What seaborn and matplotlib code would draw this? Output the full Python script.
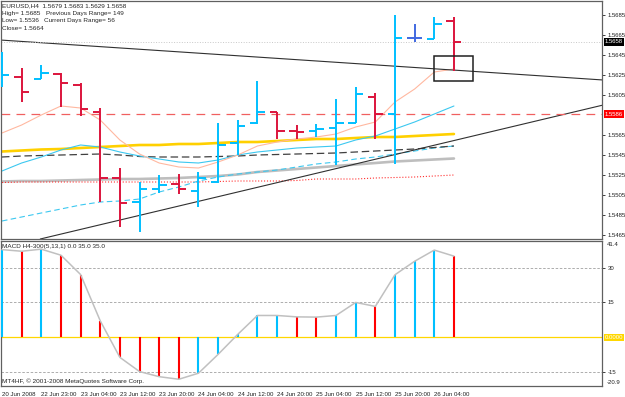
# -*- coding: utf-8 -*-
import numpy as np
import matplotlib
matplotlib.use('Agg')
import matplotlib.pyplot as plt
import matplotlib.transforms as mtrans
from matplotlib.patches import Rectangle
import seaborn as sns

# ---- OHLC bars, EURUSD H4 ----
opens  = [1.5620, 1.5623, 1.5621, 1.5626, 1.5615, 1.5588, 1.5522, 1.5498, 1.5511, 1.5516, 1.5509, 1.5518,
          1.5557, 1.5577, 1.5588, 1.5569, 1.5569, 1.5572, 1.5577, 1.5603, 1.5586, 1.5662, 1.5661, 1.5679]
highs  = [1.5648, 1.5632, 1.5635, 1.5627, 1.5617, 1.5592, 1.5532, 1.5518, 1.5525, 1.5526, 1.5528, 1.5577,
          1.5580, 1.5619, 1.5588, 1.5575, 1.5576, 1.5601, 1.5613, 1.5607, 1.5685, 1.5676, 1.5683, 1.5683]
lows   = [1.5613, 1.5598, 1.5621, 1.5593, 1.5584, 1.5498, 1.5473, 1.5468, 1.5507, 1.5506, 1.5493, 1.5517,
          1.5545, 1.5576, 1.5561, 1.5561, 1.5563, 1.5535, 1.5577, 1.5561, 1.5536, 1.5658, 1.5661, 1.5629]
closes = [1.5625, 1.5608, 1.5627, 1.5617, 1.5591, 1.5522, 1.5497, 1.5511, 1.5515, 1.5511, 1.5522, 1.5555,
          1.5574, 1.5588, 1.5569, 1.5568, 1.5571, 1.5577, 1.5606, 1.5586, 1.5662, 1.5662, 1.5676, 1.5658]

# moving averages drawn on the price chart
ma_salmon = [1.5567, 1.5575, 1.5585, 1.5594, 1.5592, 1.5580, 1.5560, 1.5546, 1.5537, 1.5533, 1.5532, 1.5538,
             1.5545, 1.5554, 1.5558, 1.5561, 1.5563, 1.5566, 1.5573, 1.5578, 1.5598, 1.5611, 1.5628, 1.5631]
ma_cyan = [1.5529, 1.5537, 1.5543, 1.5550, 1.5555, 1.5553, 1.5548, 1.5544, 1.5541, 1.5538, 1.5537, 1.5540,
           1.5545, 1.5548, 1.5550, 1.5552, 1.5553, 1.5554, 1.5560, 1.5564, 1.5571, 1.5578, 1.5586, 1.5594]
ma_cyan_dash = [1.5479, 1.5483, 1.5487, 1.5491, 1.5495, 1.5498, 1.5499, 1.5501, 1.5508, 1.5513, 1.5519, 1.5523,
                1.5526, 1.5528, 1.5530, 1.5533, 1.5536, 1.5538, 1.5541, 1.5543, 1.5546, 1.5549, 1.5552, 1.5554]
ma_black_dash = [1.5543, 1.5544, 1.55445, 1.5545, 1.55455, 1.5546, 1.5545, 1.55435, 1.5543, 1.5543, 1.5543, 1.55435,
                 1.5544, 1.5545, 1.55455, 1.5546, 1.55465, 1.5547, 1.5548, 1.5549, 1.5550, 1.5551, 1.55525, 1.5554]
ma_gold = [1.55485, 1.55495, 1.55505, 1.5551, 1.5552, 1.5553, 1.5554, 1.5555, 1.5555, 1.5556, 1.5556, 1.5557,
           1.5558, 1.5558, 1.5559, 1.5560, 1.5561, 1.5561, 1.5562, 1.5563, 1.5563, 1.5564, 1.5565, 1.5566]
ma_gray = [1.55185, 1.5519, 1.5519, 1.55195, 1.5520, 1.55205, 1.5521, 1.5521, 1.55215, 1.5522, 1.5523, 1.5524,
           1.55255, 1.5528, 1.55295, 1.5531, 1.55325, 1.5534, 1.55355, 1.5537, 1.55385, 1.55395, 1.55405, 1.55415]
ma_red_dot = [1.55175, 1.5518, 1.5518, 1.5518, 1.5518, 1.5518, 1.5518, 1.5518, 1.5518, 1.5518, 1.5518, 1.55185,
              1.5519, 1.5519, 1.5519, 1.55195, 1.5521, 1.5521, 1.5521, 1.5522, 1.55225, 1.5523, 1.5524, 1.5525]

# trend lines, horizontal levels and the box object
trend_dn_x = [-0.1, 30.6]
trend_dn_y = [1.5660, 1.5620]
trend_up_x = [1.95, 30.6]
trend_up_y = [1.5461, 1.5595]
level_red = 1.5586
bid_price = 1.5658
box_x = [21.98, 23.97]
box_y = [1.5619, 1.5644]

# ---- MACD sub window ----
macd = [37.7, 37.0, 37.9, 35.3, 27.0, 7.1, -8.6, -14.7, -16.9, -18.0, -15.4, -7.3,
        1.3, 9.4, 9.4, 8.8, 8.7, 9.4, 15.0, 13.3, 26.9, 32.7, 37.5, 34.9]
macd_up = [1, 0, 1, 0, 0, 0, 0, 0, 0, 0, 1, 1, 1, 1, 1, 0, 0, 1, 1, 0, 1, 1, 1, 0]

price_ticks = [1.5685, 1.5665, 1.5645, 1.5625, 1.5605, 1.5565, 1.5545, 1.5525, 1.5505, 1.5485, 1.5465]
macd_ticks = [30, 15, -15]
time_labels = ['20 Jun 2008', '22 Jun 23:00', '23 Jun 04:00', '23 Jun 12:00', '23 Jun 20:00', '24 Jun 04:00',
               '24 Jun 12:00', '24 Jun 20:00', '25 Jun 04:00', '25 Jun 12:00', '25 Jun 20:00', '26 Jun 04:00']
time_ticks = [0, 2, 4, 6, 8, 10, 12, 14, 16, 18, 20, 22]

UP = '#00BFFF'
DN = '#DC143C'

sns.set_style('white')
plt.rcParams['font.family'] = ['Liberation Sans', 'DejaVu Sans']

W, H = 625, 397
fig = plt.figure(figsize=(W / 100, H / 100), dpi=100)


def px(x, y):
    return x / W, 1 - y / H


left, width = 0.8 / W, 601.5 / W
ax1 = fig.add_axes([left, 1 - 239 / H, width, 238 / H])
ax2 = fig.add_axes([left, 1 - 386 / H, width, 145 / H])

idx = np.arange(len(closes))
op, hi, lo, cl = map(np.array, (opens, highs, lows, closes))

# indicator lines first so the bars sit on top
sns.lineplot(x=idx, y=ma_gray, ax=ax1, color='#BEBEBE', lw=1.9, estimator=None)
sns.lineplot(x=idx, y=ma_red_dot, ax=ax1, color='#FF3030', lw=0.8, linestyle=':', estimator=None)
sns.lineplot(x=idx, y=ma_cyan_dash, ax=ax1, color='#3CC8F0', lw=0.8, linestyle=(0, (5, 3)), estimator=None)
sns.lineplot(x=idx, y=ma_black_dash, ax=ax1, color='#404040', lw=0.9, linestyle=(0, (6, 3)), estimator=None)
sns.lineplot(x=idx, y=ma_gold, ax=ax1, color='#FFD000', lw=1.9, estimator=None)
sns.lineplot(x=idx, y=ma_cyan, ax=ax1, color='#3CC8F0', lw=0.8, estimator=None)
sns.lineplot(x=idx, y=ma_salmon, ax=ax1, color='#FFB8A0', lw=0.8, estimator=None)

ax1.plot(trend_dn_x, trend_dn_y, color='#303030', lw=0.8)
ax1.plot(trend_up_x, trend_up_y, color='#303030', lw=0.8)
ax1.axhline(level_red, color='#F06060', lw=0.9, linestyle=(0, (7, 5)))
ax1.axhline(bid_price, color='#C8C8C8', lw=0.7, linestyle=':')
ax1.add_patch(Rectangle((box_x[0], box_y[0]), box_x[1] - box_x[0], box_y[1] - box_y[0],
                        fill=False, ec='#202020', lw=1.1, zorder=5))

# OHLC bars
cols = [UP if c > o else (DN if c < o else '#4169E1') for o, c in zip(op, cl)]
w = 0.38
ax1.vlines(idx, lo, hi, colors=cols, lw=1.4, zorder=4)
ax1.hlines(op, idx - w, idx, colors=cols, lw=1.4, zorder=4)
ax1.hlines(cl, idx, idx + w, colors=cols, lw=1.4, zorder=4)

ax1.set_xlim(-0.06, 30.55)
ax1.set_ylim(1.5461, 1.5699)
ax1.yaxis.tick_right()
ax1.set_yticks(price_ticks)
ax1.set_yticklabels(['%.4f' % t for t in price_ticks])
ax1.set_xticks([])
ax1.tick_params(axis='y', length=2.5, width=0.6, pad=1.5, labelsize=4.3, colors='#202020')

# MACD
mcols = [UP if u else '#FF0000' for u in macd_up]
ax2.vlines(idx, 0, macd, colors=mcols, lw=1.5, zorder=3)
sns.lineplot(x=idx, y=macd, ax=ax2, color='#C0C0C0', lw=1.1, estimator=None, zorder=4)
ax2.axhline(0, color='#FFD700', lw=0.9, zorder=2)
for t in macd_ticks:
    ax2.axhline(t, color='#A0A0A0', lw=0.6, linestyle=(0, (3, 2)), zorder=1)
ax2.set_xlim(-0.06, 30.55)
ax2.set_ylim(-20.9, 41.4)
ax2.yaxis.tick_right()
ax2.set_yticks(macd_ticks)
ax2.set_yticklabels([str(t) for t in macd_ticks])
ax2.set_xticks(time_ticks)
ax2.set_xticklabels(time_labels, ha='left')
ax2.tick_params(axis='y', length=2.5, width=0.6, pad=1.5, labelsize=4.3, colors='#202020')
ax2.tick_params(axis='x', length=3, width=0.6, pad=1.2, labelsize=4.4, colors='#202020')

for ax in (ax1, ax2):
    ax.set_xlabel('')
    ax.set_ylabel('')
    for s in ax.spines.values():
        s.set_color('#606060')
        s.set_linewidth(0.9)

# price boxes on the right scale
tr1 = mtrans.blended_transform_factory(ax1.transAxes, ax1.transData)
tr2 = mtrans.blended_transform_factory(ax2.transAxes, ax2.transData)
box = dict(boxstyle='square,pad=0.2', ec='none')
ax1.text(1.004, bid_price, '%.4f' % bid_price, transform=tr1, fontsize=4.3, color='white',
         va='center', ha='left', bbox=dict(box, fc='black'))
ax1.text(1.004, level_red, '%.4f' % level_red, transform=tr1, fontsize=4.3, color='white',
         va='center', ha='left', bbox=dict(box, fc='#FF0000'))
ax2.text(1.004, 0, '0.0000', transform=tr2, fontsize=4.3, color='white',
         va='center', ha='left', bbox=dict(box, fc='#FFD700'))
ax2.text(1.008, 0.99, '41.4', transform=ax2.transAxes, fontsize=4.3, va='top', ha='left', color='#202020')
ax2.text(1.008, 0.005, '-20.9', transform=ax2.transAxes, fontsize=4.3, va='bottom', ha='left', color='#202020')

# header texts
fs = 4.6
fig.text(*px(2, 6), 'EURUSD,H4  %.4f %.4f %.4f %.4f' % (opens[-1], highs[-1], lows[-1], closes[-1]),
         fontsize=fs, va='center')
fig.text(*px(2, 13.3), 'High= 1.5685', fontsize=fs, va='center')
fig.text(*px(46, 13.3), 'Previous Days Range= 149', fontsize=fs, va='center')
fig.text(*px(2, 20.7), 'Low= 1.5536', fontsize=fs, va='center')
fig.text(*px(44, 20.7), 'Current Days Range= 56', fontsize=fs, va='center')
fig.text(*px(2, 28.3), 'Close= 1.5664', fontsize=fs, va='center')
fig.text(*px(2, 246.5), 'MACD H4-300(5,13,1) 0.0 35.0 35.0', fontsize=fs, va='center')
fig.text(*px(2, 381.5), 'MT4HF, \u00a9 2001-2008 MetaQuotes Software Corp.', fontsize=fs, va='center')

fig.savefig('out.png', dpi=100)
